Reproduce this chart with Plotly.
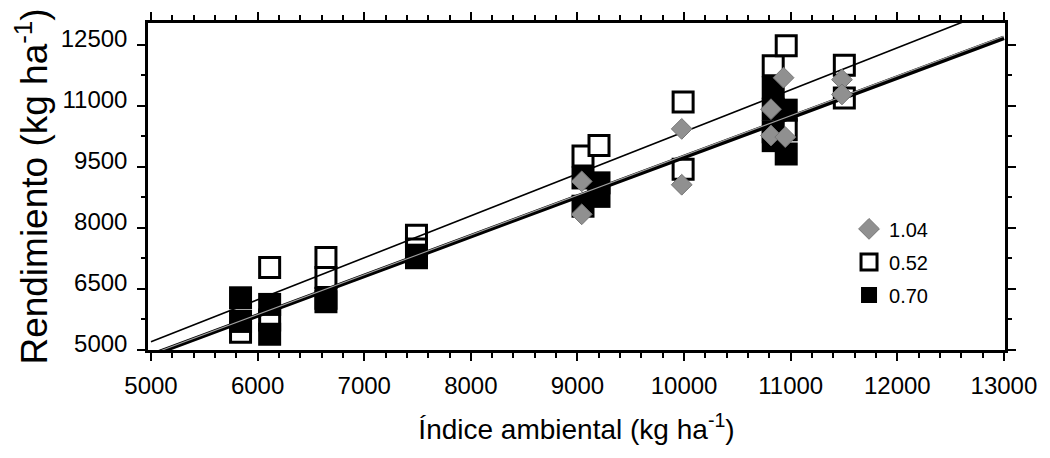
import plotly.graph_objects as go

# ---- data ----
open_x = [5840, 6113, 6113, 6641, 6641, 7490, 7490, 9052, 9202, 9991, 9991,
          10836, 10958, 10958, 11503, 11503]
open_y = [5436, 7028, 5738, 7275, 6779, 7819, 7480, 9767, 10022, 11091, 9441,
          11987, 12478, 10409, 11996, 11195]

black_x = [5840, 5840, 6113, 6113, 6641, 6641, 7490, 7490, 9052, 9052, 9202, 9202,
           10836, 10836, 10836, 10836, 10958, 10958]
black_y = [6283, 5702, 6120, 5387, 6270, 6186, 7330, 7267, 9228, 8533, 9107, 8775,
           11442, 10917, 10362, 10144, 10893, 9816]

diamond_x = [9040, 9040, 9978, 9978, 10933, 10815, 10815, 10949, 11481, 11481]
diamond_y = [9143, 8335, 10433, 9061, 11691, 10917, 10271, 10232, 11643, 11280]

legend_labels = ["1.04", "0.52", "0.70"]

# regression lines (end points)
line_x = [5000, 13000]
thin_line_y = [5202, 13458]
thick_line_y = [4872, 12668]
gray_line_y = [4895, 12712]

x_tick0, x_dtick, x_minor = 5000, 1000, 200
y_tick0, y_dtick, y_minor = 5000, 1500, 750

FONT = "Liberation Sans, Arial, sans-serif"

fig = go.Figure()

fig.add_trace(go.Scatter(
    x=open_x, y=open_y, mode="markers", name=legend_labels[1], legendrank=2,
    legendgroup="b",
    marker=dict(symbol="square", size=20, color="white",
                line=dict(color="black", width=3))))

fig.add_trace(go.Scatter(
    x=black_x, y=black_y, mode="markers", name=legend_labels[2], legendrank=3,
    legendgroup="c",
    marker=dict(symbol="square", size=23, color="black",
                line=dict(color="black", width=0))))

fig.add_trace(go.Scatter(
    x=line_x, y=thin_line_y, mode="lines", showlegend=False,
    line=dict(color="black", width=1.6)))
fig.add_trace(go.Scatter(
    x=line_x, y=thick_line_y, mode="lines", showlegend=False,
    line=dict(color="black", width=4.6)))
fig.add_trace(go.Scatter(
    x=line_x, y=gray_line_y, mode="lines", showlegend=False,
    line=dict(color="#a0a0a0", width=1.1)))

fig.add_trace(go.Scatter(
    x=diamond_x, y=diamond_y, mode="markers", name=legend_labels[0], legendrank=1,
    legendgroup="a",
    marker=dict(symbol="diamond", size=16, color="#909090",
                line=dict(color="#767676", width=1))))

axis_common = dict(
    showline=True, linewidth=2.5, linecolor="black", mirror="ticks",
    ticks="outside", tickwidth=2, tickcolor="black", ticklen=8,
    showgrid=False, zeroline=False, tickformat="d",
)

fig.update_xaxes(
    range=[4972, 13010], tick0=x_tick0, dtick=x_dtick,
    tickfont=dict(family=FONT, size=24, color="black"),
    ticklabelstandoff=4,
    minor=dict(tick0=x_tick0, dtick=x_minor, ticks="outside", ticklen=5,
               tickwidth=1.5, tickcolor="black", showgrid=False),
    title=dict(text="Índice ambiental (kg ha<sup>-1</sup>)",
               font=dict(family=FONT, size=28, color="black"), standoff=22),
    **axis_common)

fig.update_yaxes(
    range=[5000, 13035], tick0=y_tick0, dtick=y_dtick,
    tickfont=dict(family=FONT, size=24, color="black"),
    ticklabelshift=-6, ticklabelstandoff=5,
    minor=dict(tick0=y_tick0, dtick=y_minor, ticks="outside", ticklen=4,
               tickwidth=1.5, tickcolor="black", showgrid=False),
    title=dict(text="Rendimiento (kg ha<sup>-1</sup>)",
               font=dict(family=FONT, size=37, color="black"), standoff=2),
    **axis_common)

fig.update_layout(
    width=1050, height=458,
    margin=dict(l=148, r=45, t=18, b=108),
    paper_bgcolor="white", plot_bgcolor="white",
    font=dict(family=FONT, color="black"),
    showlegend=True,
    legend=dict(x=0.818, y=0.43, xanchor="left", yanchor="top",
                bgcolor="rgba(0,0,0,0)", font=dict(family=FONT, size=20),
                tracegroupgap=4, itemsizing="trace"),
)

fig.write_html("out.html")
